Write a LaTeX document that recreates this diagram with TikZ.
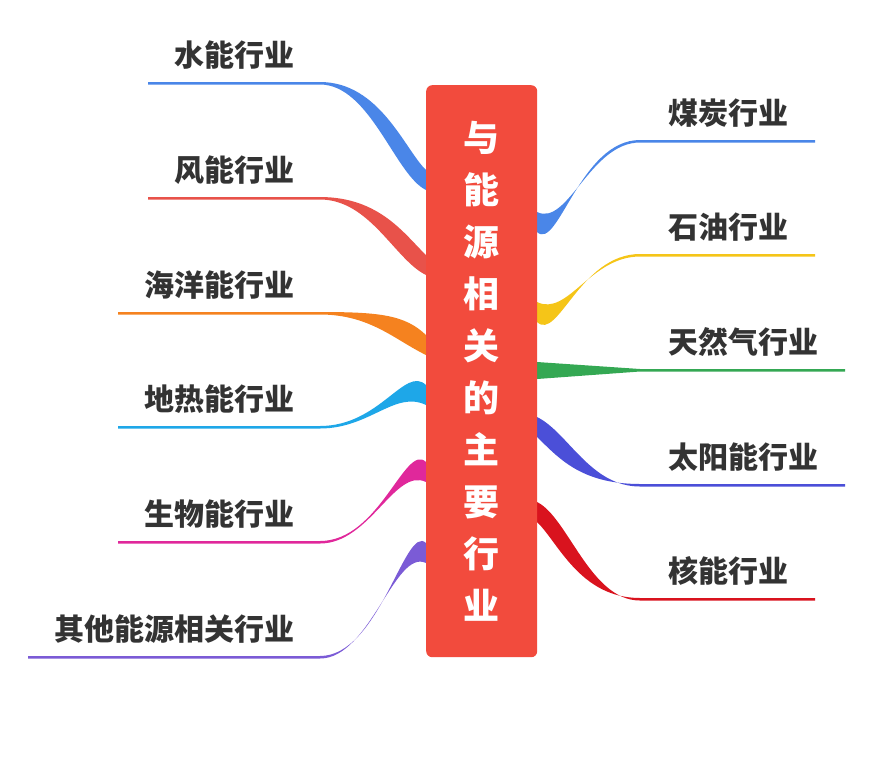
\documentclass[tikz,border=0pt]{standalone}
\usepackage{fontspec}
\newfontfamily\cjk{Noto Sans CJK SC}
\definecolor{cblue}{HTML}{4A86E8}
\definecolor{cred}{HTML}{E8524A}
\definecolor{corange}{HTML}{F5821F}
\definecolor{ccyan}{HTML}{1EA7E8}
\definecolor{cmag}{HTML}{E0289B}
\definecolor{cpurp}{HTML}{7B5BD6}
\definecolor{cyell}{HTML}{F5C518}
\definecolor{cgreen}{HTML}{34A853}
\definecolor{cind}{HTML}{4B4FD8}
\definecolor{cdred}{HTML}{D9131E}
\definecolor{cbox}{HTML}{F24B3D}
\definecolor{ctext}{HTML}{333333}
\tikzset{lbl/.style={font=\cjk\bfseries\fontsize{30}{32}\selectfont,text=ctext,inner sep=0pt}}
\newcommand{\lbr}[5]{% text color xstart liney boxy
  \fill[#2] (#3,#4-1) -- (320,#4-1) .. controls (380,#4-1) and (405,#5-30) .. (426,#5-10) -- (426,#5+10) .. controls (395,#5-5) and (370,#4+1.5) .. (320,#4+1.5) -- (#3,#4+1.5) -- cycle;
  \node[lbl,anchor=base east] at (295,#4-17) {#1};}
\newcommand{\rbr}[5]{% text color xend liney boxy
  \fill[#2] (#3,#4-1) -- (640,#4-1) .. controls (580,#4-1) and (558,#5+30) .. (537,#5+10) -- (537,#5-10) .. controls (568,#5+5) and (590,#4+1.5) .. (640,#4+1.5) -- (#3,#4+1.5) -- cycle;
  \node[lbl,anchor=base west] at (668,#4-17) {#1};}
\begin{document}
\begin{tikzpicture}[x=1pt,y=-1pt]
\useasboundingbox (0,0) rectangle (869,772);
\lbr{水能行业}{cblue}{148}{83}{180}
\lbr{风能行业}{cred}{148}{198}{265}
\lbr{海洋能行业}{corange}{118}{313}{345}
\lbr{地热能行业}{ccyan}{118}{427}{395}
\lbr{生物能行业}{cmag}{118}{542}{472}
\lbr{其他能源相关行业}{cpurp}{28}{657}{553}
\rbr{煤炭行业}{cblue}{815}{141}{222}
\rbr{石油行业}{cyell}{815}{255}{312}
\fill[cgreen] (845,369) -- (640,369) -- (537,362) -- (537,379) -- (640,371.5) -- (845,371.5) -- cycle;
\node[lbl,anchor=base west] at (668,353) {天然气行业};
\rbr{太阳能行业}{cind}{845}{485}{427}
\rbr{核能行业}{cdred}{815}{599}{512}
\node[draw=none,fill=cbox,rounded corners=6pt,minimum width=111pt,minimum height=572pt,anchor=north west,inner sep=0pt] (box) at (426,85) {};
\node[font=\cjk\bfseries\fontsize{36}{52}\selectfont,text=white,align=center,anchor=center] (title) at (box.center) {与\\能\\源\\相\\关\\的\\主\\要\\行\\业};
\end{tikzpicture}
\end{document}
